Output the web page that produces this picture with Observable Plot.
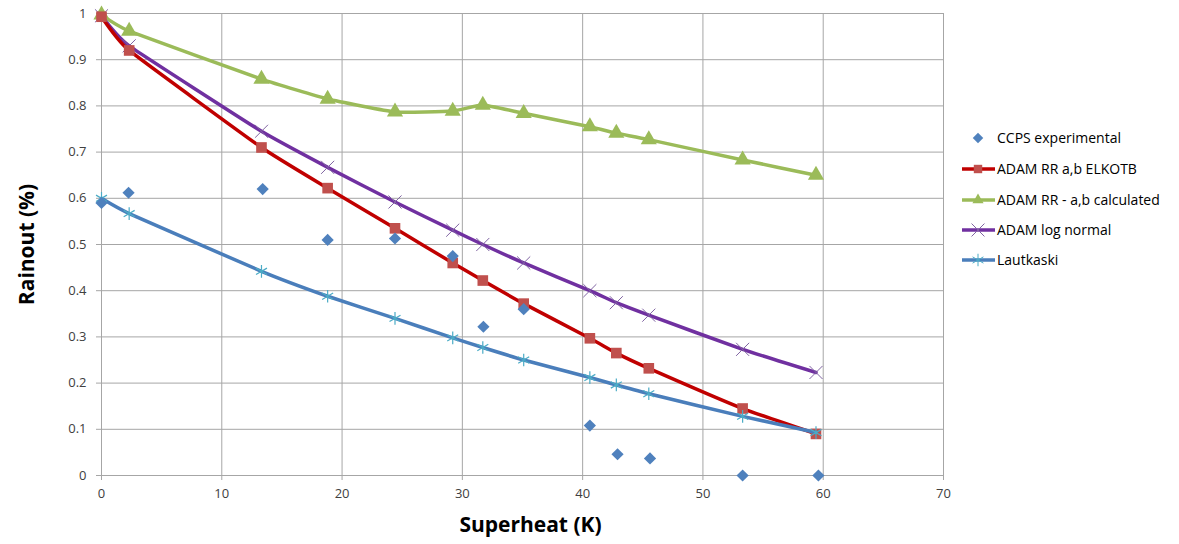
<!DOCTYPE html>
<html>
<head>
<meta charset="utf-8">
<script src="https://cdn.jsdelivr.net/npm/d3@7"></script>
<script src="https://cdn.jsdelivr.net/npm/@observablehq/plot@0.6"></script>
<style>
  html, body { margin: 0; padding: 0; background: #fff; }
  #chart svg { display: block; }
</style>
</head>
<body>
<div id="chart"></div>
<script>
// Superheat (K) values shared by all series
const superheat = [0, 2.3, 13.3, 18.8, 24.4, 29.2, 31.7, 35.1, 40.6, 42.8, 45.5, 53.3, 59.4];
const ccpsX     = [0, 2.25, 13.4, 18.8, 24.4, 29.2, 31.75, 35.1, 40.6, 42.9, 45.6, 53.3, 59.6];
const ccps      = [0.59, 0.612, 0.62, 0.51, 0.513, 0.475, 0.322, 0.36, 0.108, 0.046, 0.037, 0, 0];
const elkotb    = [0.993, 0.92, 0.71, 0.622, 0.535, 0.46, 0.422, 0.372, 0.297, 0.265, 0.232, 0.145, 0.09];
const calculated= [0.997, 0.962, 0.858, 0.815, 0.787, 0.789, 0.802, 0.784, 0.755, 0.741, 0.727, 0.683, 0.65];
const logNormal = [0.995, 0.93, 0.745, 0.667, 0.592, 0.531, 0.5, 0.46, 0.4, 0.374, 0.347, 0.273, 0.223];
const lautkaski = [0.60, 0.567, 0.442, 0.388, 0.34, 0.298, 0.277, 0.25, 0.212, 0.196, 0.177, 0.128, 0.093];
const xTicks = [0, 10, 20, 30, 40, 50, 60, 70];
const yTicks = [0, 0.1, 0.2, 0.3, 0.4, 0.5, 0.6, 0.7, 0.8, 0.9, 1];
const seriesNames = ["CCPS experimental", "ADAM RR a,b ELKOTB", "ADAM RR - a,b calculated", "ADAM log normal", "Lautkaski"];

const toRows = (xsArr, ys) => xsArr.map((x, i) => ({x, y: ys[i]}));
const ccpsRows = toRows(ccpsX, ccps);
const elkRows = toRows(superheat, elkotb);
const calcRows = toRows(superheat, calculated);
const logRows = toRows(superheat, logNormal);
const lautRows = toRows(superheat, lautkaski);

const grid = "#a6a6a6";
const font = "'Open Sans', sans-serif";
const curve = "cardinal";
const tension = 0.6;

const chart = Plot.plot({
  width: 1179,
  height: 544,
  marginLeft: 101,
  marginRight: 236,
  marginTop: 13,
  marginBottom: 69,
  style: {fontFamily: font, fontSize: "13px", color: "#404040", background: "#fff"},
  x: {domain: [0, 70], label: null},
  y: {domain: [0, 1], label: null},
  marks: [
    Plot.gridX(xTicks, {stroke: grid, strokeOpacity: 1, strokeWidth: 1}),
    Plot.gridY(yTicks, {stroke: grid, strokeOpacity: 1, strokeWidth: 1}),
    Plot.axisX({ticks: xTicks, tickSize: 5, tickPadding: 8, stroke: grid, fontSize: 13, fill: "#404040",
      label: "Superheat (K)", labelAnchor: "center", labelArrow: "none", labelOffset: 56}),
    Plot.axisY({ticks: yTicks, tickSize: 5, tickPadding: 10, stroke: grid, fontSize: 13, fill: "#404040",
      tickFormat: d => String(+d.toFixed(1)),
      label: "Rainout (%)", labelAnchor: "center", labelArrow: "none", labelOffset: 82}),
    Plot.line(calcRows, {x: "x", y: "y", stroke: "#9bbb59", strokeWidth: 3.5, curve, tension}),
    Plot.dot(calcRows, {x: "x", y: "y", symbol: "triangle", fill: "#9bbb59", r: 6}),
    Plot.line(logRows, {x: "x", y: "y", stroke: "#7030a0", strokeWidth: 3.5, curve, tension}),
    Plot.dot(logRows, {x: "x", y: "y", symbol: "times", stroke: "#8064a2", strokeWidth: 1, r: 6}),
    Plot.line(elkRows, {x: "x", y: "y", stroke: "#c00000", strokeWidth: 3.5, curve, tension}),
    Plot.dot(elkRows, {x: "x", y: "y", symbol: "square", fill: "#c0504d", r: 6}),
    Plot.line(lautRows, {x: "x", y: "y", stroke: "#4a7ebb", strokeWidth: 3.5, curve, tension}),
    Plot.dot(lautRows, {x: "x", y: "y", symbol: "asterisk", stroke: "#4bacc6", strokeWidth: 1.2, r: 6}),
    Plot.dot(ccpsRows, {x: "x", y: "y", symbol: "diamond2", fill: "#4f81bd", stroke: "none", r: 5.5})
  ]
});

// Axis titles: bold
d3.select(chart).selectAll("[aria-label='x-axis label'] text, [aria-label='y-axis label'] text")
  .style("font-weight", "bold").style("font-size", "21px").style("fill", "#000");
d3.select(chart).selectAll("[aria-label='x-axis label'] text").attr("dx", 8);

// Legend (not data)
const svg = d3.select(chart);
const legend = svg.append("g").attr("font-family", font).attr("font-size", 14)
  .attr("fill", "#000").attr("text-anchor", "start");
const legendY = [138, 169, 200, 230, 260];
const legendStyles = [
  {line: null, symbol: d3.symbolDiamond2, fill: "#4f81bd", stroke: null, size: 70},
  {line: "#c00000", symbol: d3.symbolSquare2, fill: "#c0504d", stroke: null, size: 90},
  {line: "#9bbb59", symbol: d3.symbolTriangle2, fill: "#9bbb59", stroke: null, size: 90},
  {line: "#7030a0", symbol: d3.symbolTimes, fill: "none", stroke: "#8064a2", size: 110},
  {line: "#4a7ebb", symbol: d3.symbolAsterisk, fill: "none", stroke: "#4bacc6", size: 110}
];
seriesNames.forEach((name, i) => {
  const y = legendY[i];
  const s = legendStyles[i];
  const g = legend.append("g").attr("transform", `translate(0,${y})`);
  if (s.line) g.append("line").attr("x1", 962).attr("x2", 995).attr("y1", 0).attr("y2", 0)
      .attr("stroke", s.line).attr("stroke-width", 3.5);
  g.append("path").attr("transform", "translate(978,0)")
    .attr("d", d3.symbol(s.symbol, s.size)())
    .attr("fill", s.fill).attr("stroke", s.stroke || "none").attr("stroke-width", 1);
  g.append("text").attr("x", 997).attr("y", 0).attr("dy", "0.35em").attr("text-anchor", "start").text(name);
});

document.getElementById("chart").appendChild(chart);
</script>
</body>
</html>
